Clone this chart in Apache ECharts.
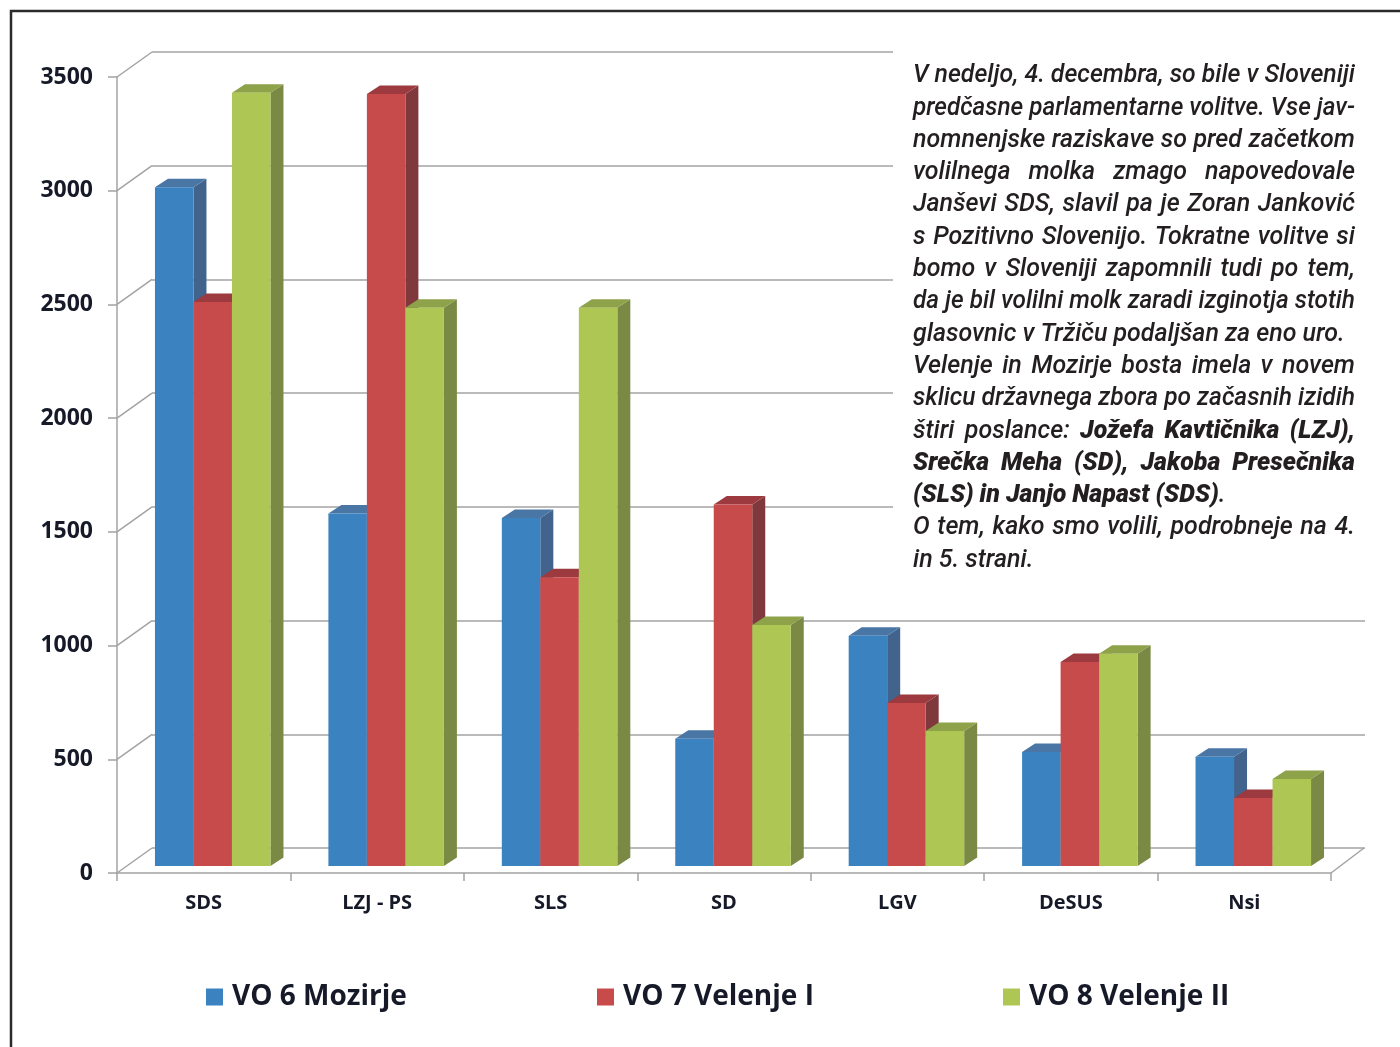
<!DOCTYPE html>
<html>
<head>
<meta charset="utf-8">
<script src="https://cdn.jsdelivr.net/npm/echarts@6/dist/echarts.min.js"></script>
<style>
html,body{margin:0;padding:0;background:#fff;}
#chart{width:1400px;height:1047px;}
</style>
</head>
<body>
<div id="chart"></div>
<script>
// ---- data ----
const categories = ['SDS', 'LZJ - PS', 'SLS', 'SD', 'LGV', 'DeSUS', 'Nsi'];
const seriesNames = ['VO 6 Mozirje', 'VO 7 Velenje I', 'VO 8 Velenje II'];
const mozirje   = [2985, 1550, 1530, 560, 1012, 501, 480];
const velenje1  = [2480, 3395, 1270, 1590, 717, 897, 299];
const velenje2  = [3400, 2455, 2455, 1060, 594, 933, 383];
const yTicks = [0, 500, 1000, 1500, 2000, 2500, 3000, 3500];
const textLines = [
  'V nedeljo, 4. decembra, so bile v Sloveniji',
  'predčasne parlamentarne volitve. Vse jav-',
  'nomnenjske raziskave so pred začetkom',
  'volilnega molka zmago napovedovale',
  'Janševi SDS, slavil pa je Zoran Janković',
  's Pozitivno Slovenijo. Tokratne volitve si',
  'bomo v Sloveniji zapomnili tudi po tem,',
  'da je bil volilni molk zaradi izginotja stotih',
  'glasovnic v Tržiču podaljšan za eno uro.',
  'Velenje in Mozirje bosta imela v novem',
  'sklicu državnega zbora po začasnih izidih',
  'štiri poslance: *Jožefa Kavtičnika (LZJ),*',
  '*Srečka Meha (SD), Jakoba Presečnika*',
  '*(SLS) in Janjo Napast (SDS)*.',
  'O tem, kako smo volili, podrobneje na 4.',
  'in 5. strani.'
];
const paragraphEnds = [8, 13, 15];

// ---- styles ----
const palette = [
  {front: '#3a82c0', top: '#4a76a6', side: '#41638c'},
  {front: '#c84b4b', top: '#9c3a3f', side: '#7f383b'},
  {front: '#aec653', top: '#8ea24a', side: '#7a8a45'}
];
const gridColor = '#a3a3a3';
const labelColor = '#161a28';
const DX = 13, DY = -8.5;      // bar depth
const FX = 9, FY = -7;         // front face offset inside floor
const WX = 35, WY = -25;       // back wall offset

function barRenderer(k) {
  return function (params, api) {
    const idx = api.value(0), v = api.value(1);
    const p0 = api.coord([idx, 0]);
    const p1 = api.coord([idx, v]);
    const band = api.size([1, 0])[0];
    const bw = band * 0.222;
    const xl = p0[0] + FX + (k - 1.5) * bw;
    const xr = xl + bw;
    const yb = p0[1] + FY;
    const yt = p1[1] + FY;
    const c = palette[k];
    return {
      type: 'group',
      children: [
        {type: 'polygon', shape: {points: [[xr, yt], [xr + DX, yt + DY], [xr + DX, yb + DY], [xr, yb]]}, style: {fill: c.side}},
        {type: 'polygon', shape: {points: [[xl, yt], [xl + DX, yt + DY], [xr + DX, yt + DY], [xr, yt]]}, style: {fill: c.top}},
        {type: 'rect', shape: {x: xl, y: yt, width: bw, height: yb - yt}, style: {fill: c.front}}
      ]
    };
  };
}

function connectorRenderer(params, api) {
  const cs = params.coordSys;
  const y = api.coord([0, api.value(1)])[1];
  return {type: 'line', shape: {x1: cs.x, y1: y, x2: cs.x + WX, y2: y + WY},
    style: {stroke: gridColor, lineWidth: 1.5}};
}
function floorEdgeRenderer(params, api) {
  const cs = params.coordSys;
  const y = api.coord([0, 0])[1];
  const x = cs.x + cs.width;
  return {type: 'line', shape: {x1: x, y1: y, x2: x + WX - 2, y2: y + WY},
    style: {stroke: gridColor, lineWidth: 1.5}};
}

// ---- justified text block ----
const bodyFont = 'italic 500 25px Roboto, "Noto Sans", sans-serif';
const boldFont = 'italic 900 25px Roboto, "Noto Sans", sans-serif';
const measureCtx = document.createElement('canvas').getContext('2d');
function measure(t, bold) { measureCtx.font = bold ? boldFont : bodyFont; return measureCtx.measureText(t).width; }

const textLeft = 913, textRight = 1355, textTop = 76, lineStep = 32.3, minGap = 6;
const textElements = [];
textLines.forEach(function (line, li) {
  const words = [];
  let bold = false, cur = [], piece = '';
  function flushPiece() { if (piece) { cur.push({t: piece, b: bold}); piece = ''; } }
  for (const ch of line) {
    if (ch === '*') { flushPiece(); bold = !bold; }
    else if (ch === ' ') { flushPiece(); if (cur.length) words.push(cur); cur = []; }
    else piece += ch;
  }
  flushPiece(); if (cur.length) words.push(cur);
  const W = textRight - textLeft;
  let total = 0;
  words.forEach(function (w) { w.width = w.reduce(function (s, p) { p.w = measure(p.t, p.b); return s + p.w; }, 0); total += w.width; });
  const justify = paragraphEnds.indexOf(li) < 0 && words.length > 1;
  const gapsW = minGap * (words.length - 1);
  const sc = Math.min(1, (W - gapsW) / total);
  words.forEach(function (w) { w.width *= sc; w.forEach(function (p) { p.w *= sc; }); });
  total *= sc;
  const gap = justify ? (W - total) / (words.length - 1) : minGap;
  let x = textLeft;
  const y = textTop + li * lineStep;
  words.forEach(function (w) {
    let px = x;
    w.forEach(function (p) {
      textElements.push({type: 'text', x: px, y: y, z: 101, scaleX: sc,
        style: {text: p.t, font: p.b ? boldFont : bodyFont, fill: '#231f20', align: 'left', verticalAlign: 'middle'}});
      px += p.w;
    });
    x += w.width + gap;
  });
});

const seriesData = [mozirje, velenje1, velenje2];
const legendLefts = [206, 597, 1003];

const option = {
  backgroundColor: '#ffffff',
  animation: false,
  grid: [
    {left: 117, right: 69, top: 77, bottom: 174},
    {left: 152, right: 35, top: 52, bottom: 199}
  ],
  xAxis: [
    {type: 'category', gridIndex: 0, data: categories,
      axisLine: {show: true, lineStyle: {color: gridColor, width: 1.5}},
      axisTick: {show: true, length: 8, lineStyle: {color: gridColor, width: 1.5}},
      axisLabel: {margin: 20, fontFamily: 'Open Sans', fontWeight: 'bold', fontSize: 20, color: labelColor},
      splitLine: {show: false}},
    {type: 'value', gridIndex: 1, show: false, min: 0, max: 1}
  ],
  yAxis: [
    {type: 'value', gridIndex: 0, min: 0, max: 3500, interval: 500,
      axisLine: {show: true, lineStyle: {color: gridColor, width: 1.5}},
      axisTick: {show: true, length: 9, lineStyle: {color: gridColor, width: 1.5}},
      axisLabel: {margin: 24, fontFamily: 'Open Sans', fontWeight: 'bold', fontSize: 23, color: labelColor,
        formatter: function (v) { return String(v); }},
      splitLine: {show: false}},
    {type: 'value', gridIndex: 1, min: 0, max: 3500, interval: 500,
      axisLine: {show: false}, axisTick: {show: false}, axisLabel: {show: false},
      splitLine: {show: true, lineStyle: {color: gridColor, width: 1.5}}}
  ],
  legend: legendLefts.map(function (l, i) {
    return {left: l, top: 980, padding: 0, itemWidth: 17, itemHeight: 17, itemGap: 10,
      data: [{name: seriesNames[i], icon: 'rect', itemStyle: {color: palette[i].front}}],
      textStyle: {fontFamily: 'Open Sans', fontWeight: 'bold', fontSize: 28, color: labelColor, lineHeight: 34, padding: [0, 0, 0, 4]}};
  }),
  series: [
    {type: 'custom', name: 'walls', xAxisIndex: 0, yAxisIndex: 0, silent: true, z: 1,
      data: yTicks.map(function (v) { return [0, v]; }), renderItem: connectorRenderer},
    {type: 'custom', name: 'floor', xAxisIndex: 0, yAxisIndex: 0, silent: true, z: 1,
      data: [[0, 0]], renderItem: floorEdgeRenderer}
  ].concat(seriesData.map(function (vals, k) {
    return {type: 'custom', name: seriesNames[k], xAxisIndex: 0, yAxisIndex: 0, z: 3, clip: false,
      itemStyle: {color: palette[k].front},
      encode: {x: 0, y: 1},
      data: vals.map(function (v, i) { return [i, v]; }),
      renderItem: barRenderer(k)};
  })),
  graphic: [
    {type: 'rect', z: 100, shape: {x: 893, y: 38, width: 505, height: 552}, style: {fill: '#ffffff'}},
    {type: 'rect', z: 102, shape: {x: 11, y: 11, width: 1400, height: 1050}, style: {fill: 'none', stroke: '#2b2b2b', lineWidth: 2.5}}
  ].concat(textElements)
};

const chart = echarts.init(document.getElementById('chart'));
chart.setOption(option);
</script>
</body>
</html>
